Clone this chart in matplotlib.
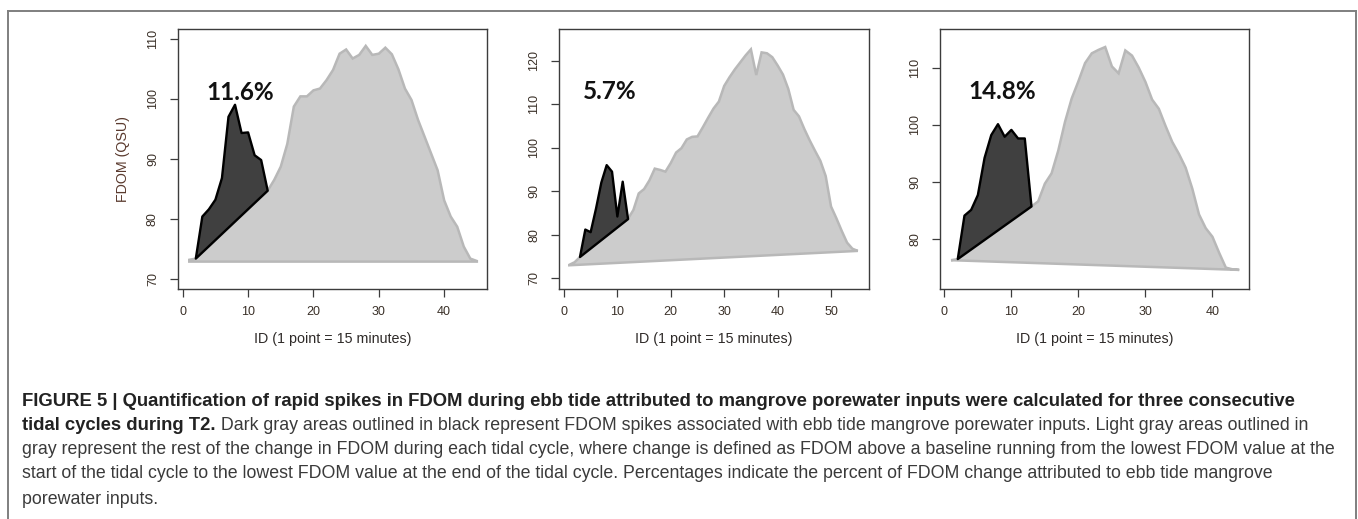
import numpy as np
import matplotlib.pyplot as plt
from matplotlib import font_manager
from matplotlib.lines import Line2D

cycle1_x = np.r_[1, 2, np.arange(13, 46)]
cycle1_y = [73.2, 73.4, 84.7, 86.5, 88.7, 92.5, 98.7, 100.4, 100.4, 101.4, 101.7,
            103.1, 104.8, 107.5, 108.2, 106.7, 107.3, 108.8, 107.3, 107.5, 108.5,
            107.4, 104.9, 101.7, 99.8, 96.5, 93.7, 90.9, 88.1, 83.1, 80.4, 78.7,
            75.4, 73.4, 73.0]
cycle1_base = [72.9, 72.9]
spike1_x = np.arange(2, 14)
spike1_y = [73.4, 80.4, 81.6, 83.2, 86.8, 97.0, 99.0, 94.3, 94.4, 90.6, 89.8, 84.7]

cycle2_x = np.r_[1, 2, 3, np.arange(12, 56)]
cycle2_y = [73.1, 73.7, 74.9, 83.7, 85.7, 89.5, 90.5, 92.5, 95.2, 94.9, 94.5, 96.5,
            98.9, 99.9, 101.9, 102.5, 102.6, 104.7, 106.9, 109.0, 110.6, 114.2,
            116.2, 118.0, 119.6, 121.2, 122.6, 116.7, 121.9, 121.7, 120.8, 118.9,
            116.8, 113.5, 108.7, 107.2, 104.3, 101.7, 99.3, 97.0, 93.5, 86.5, 83.8,
            80.9, 78.2, 76.8, 76.3]
cycle2_base = [73.0, 76.3]
spike2_x = np.arange(3, 13)
spike2_y = [74.9, 81.2, 80.6, 86.0, 92.0, 96.0, 94.5, 84.2, 92.2, 83.6]

cycle3_x = np.r_[1, 2, np.arange(13, 45)]
cycle3_y = [76.3, 76.5, 85.7, 86.6, 89.7, 91.5, 95.5, 100.5, 104.6, 107.6, 110.8,
            112.5, 113.1, 113.6, 110.2, 109.0, 113.0, 112.1, 110.0, 107.5, 104.4,
            102.8, 99.8, 97.0, 94.9, 92.5, 88.8, 84.3, 81.9, 80.4, 77.6, 75.0,
            74.7, 74.6]
cycle3_base = [76.3, 74.6]
spike3_x = np.arange(2, 14)
spike3_y = [76.5, 84.1, 85.1, 87.7, 94.2, 98.2, 100.1, 97.9, 99.1, 97.6, 97.6, 85.7]

percents = ["11.6%", "5.7%", "14.8%"]
label_pos = [(8.8, 101.0), (8.6, 113.0), (8.7, 105.8)]

panels = [
    dict(x=cycle1_x, y=cycle1_y, base=cycle1_base, sx=spike1_x, sy=spike1_y,
         xlim=(-0.77, 46.6), ylim=(68.34, 111.56),
         xticks=[0, 10, 20, 30, 40], yticks=[70, 80, 90, 100, 110],
         left=177.7, right=487.3),
    dict(x=cycle2_x, y=cycle2_y, base=cycle2_base, sx=spike2_x, sy=spike2_y,
         xlim=(-0.87, 57.05), ylim=(67.55, 127.2),
         xticks=[0, 10, 20, 30, 40, 50], yticks=[70, 80, 90, 100, 110, 120],
         left=559.3, right=868.7),
    dict(x=cycle3_x, y=cycle3_y, base=cycle3_base, sx=spike3_x, sy=spike3_y,
         xlim=(-0.65, 45.5), ylim=(71.26, 116.7),
         xticks=[0, 10, 20, 30, 40], yticks=[80, 90, 100, 110],
         left=940.0, right=1249.3),
]

caption_lines = [
    ("FIGURE 5 | Quantification of rapid spikes in FDOM during ebb tide attributed to "
     "mangrove porewater inputs were calculated for three consecutive", ""),
    ("tidal cycles during T2.", " Dark gray areas outlined in black represent FDOM spikes "
     "associated with ebb tide mangrove porewater inputs. Light gray areas outlined in"),
    ("", "gray represent the rest of the change in FDOM during each tidal cycle, where "
     "change is defined as FDOM above a baseline running from the lowest FDOM value at the"),
    ("", "start of the tidal cycle to the lowest FDOM value at the end of the tidal cycle. "
     "Percentages indicate the percent of FDOM change attributed to ebb tide mangrove"),
    ("", "porewater inputs."),
]

W, H = 1358, 519
fig = plt.figure(figsize=(W / 100, H / 100), dpi=100)
plt.rcParams['font.family'] = ['Liberation Sans', 'DejaVu Sans']

installed = {f.name for f in font_manager.fontManager.ttflist}
cap_font = 'Liberation Sans Narrow' if 'Liberation Sans Narrow' in installed else 'Liberation Sans'
pct_font = 'Lato' if 'Lato' in installed else 'DejaVu Sans'

axis_col = '#3c3c3c'
top, bottom = 29.3, 289.0

for i, p in enumerate(panels):
    ax = fig.add_axes([p['left'] / W, 1 - bottom / H,
                       (p['right'] - p['left']) / W, (bottom - top) / H])
    poly_x = np.r_[p['x'], p['x'][-1], p['x'][0]]
    poly_y = np.r_[p['y'], p['base'][1], p['base'][0]]
    ax.fill(poly_x, poly_y, facecolor='#cccccc', edgecolor='#b8b8b8', lw=1.8, zorder=1)
    ax.fill(p['sx'], p['sy'], facecolor='#404040', edgecolor='black', lw=1.7,
            joinstyle='round', zorder=2)
    tx, ty = label_pos[i]
    ax.text(tx, ty, percents[i], ha='center', va='center', fontsize=17.5,
            fontweight='bold', family=pct_font, color='#111111', zorder=3)

    ax.set_xlim(*p['xlim'])
    ax.set_ylim(*p['ylim'])
    ax.set_xticks(p['xticks'])
    ax.set_yticks(p['yticks'])
    for s in ax.spines.values():
        s.set_color(axis_col)
        s.set_linewidth(1.0)
    ax.tick_params(direction='out', length=5.5, width=0.9, colors=axis_col,
                   labelsize=9, labelcolor='#3a3028')
    ax.tick_params(axis='x', pad=7)
    ax.tick_params(axis='y', pad=8)
    for lab in ax.get_yticklabels():
        lab.set_rotation(90)
        lab.set_va('center')
    ax.set_xlabel("ID (1 point = 15 minutes)", fontsize=10.3, color='#2e2a28', labelpad=10)
    if i == 0:
        ax.set_ylabel("FDOM (QSU)", fontsize=10.3, color='#5a3a2e', labelpad=12)

# outer frame, open at the bottom
frame = dict(color='#7f7f7f', lw=1.4, transform=fig.transFigure)
fig.add_artist(Line2D([7.5 / W, 7.5 / W], [0, 1 - 10.5 / H], **frame))
fig.add_artist(Line2D([7.5 / W, 1355.5 / W], [1 - 10.5 / H, 1 - 10.5 / H], **frame))
fig.add_artist(Line2D([1355.5 / W, 1355.5 / W], [0, 1 - 10.5 / H], **frame))

# caption, sized so the lines span the same width as in the figure
renderer = fig.canvas.get_renderer()
probe = fig.text(0, 0, caption_lines[2][1], fontsize=10, family=cap_font)
cap_size = 10 * (1343 - 22) / probe.get_window_extent(renderer).width
probe.remove()
probe = fig.text(0, 0, caption_lines[0][0], fontsize=10, family=cap_font, fontweight='bold')
bold_size = 10 * (1303 - 22) / probe.get_window_extent(renderer).width
probe.remove()

line_y = [401, 425, 450, 474, 499]
for (bold, regular), py in zip(caption_lines, line_y):
    x0 = 22 / W
    if bold:
        t = fig.text(x0, 1 - py / H, bold, fontsize=bold_size, family=cap_font,
                     fontweight='bold', color='#222222', va='center')
        x0 += t.get_window_extent(renderer).width / W
    if regular:
        fig.text(x0, 1 - py / H, regular, fontsize=cap_size, family=cap_font,
                 color='#3a3a3a', va='center')

fig.savefig('out.png', dpi=100)
